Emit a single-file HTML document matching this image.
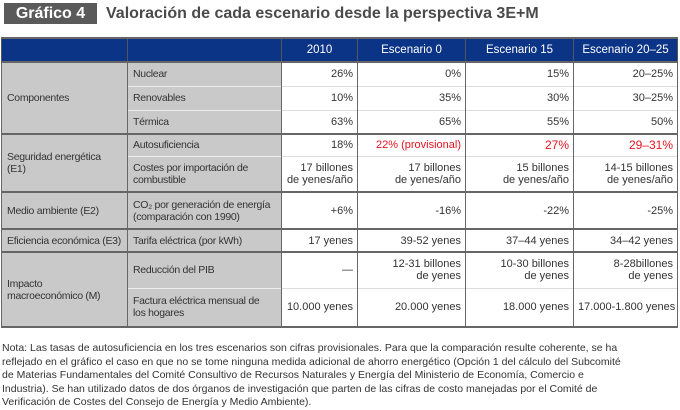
<!DOCTYPE html>
<html><head><meta charset="utf-8">
<style>
body{margin:0;width:680px;height:403px;background:#fff;font-family:"Liberation Sans",sans-serif;position:relative;overflow:hidden}
.badge{position:absolute;left:4px;top:3px;width:93px;height:21px;background:#5a5a5a;color:#fff;font-weight:bold;font-size:16px;line-height:21px;text-align:center}
.title{position:absolute;left:106px;top:3px;font-weight:bold;font-size:16px;line-height:21px;color:#4a4a4a}
table{position:absolute;left:1px;top:37px;width:676px;border-collapse:collapse;table-layout:fixed;font-size:11px;color:#333}
td,th{padding:0 4px;line-height:12px;overflow:hidden;white-space:nowrap;box-sizing:border-box}
th{background:#0b3487;color:#fff;font-weight:normal;font-size:11.5px;text-align:center;border-left:1px solid #555;border-right:1px solid #555;border-top:2px solid #666}
td{border-left:1px solid #666;border-right:1px solid #666}
.g{background:#c9c9c9;text-align:left;padding-left:5px;padding-right:0;font-size:10.5px;letter-spacing:-0.3px}
.v{text-align:right;background:#fff}
.thin td{border-top:1px solid #ddd}
.thin td.g{border-top:1px solid #eee}
.thick td{border-top:2px solid #666}
.red{color:#e8121e}
.note{position:absolute;left:2px;top:342px;width:676px;font-size:10.5px;line-height:13.6px;color:#333}
</style></head><body>
<div class="badge">Gráfico 4</div>
<div class="title">Valoración de cada escenario desde la perspectiva 3E+M</div>
<table>
<colgroup><col style="width:126px"><col style="width:154px"><col style="width:76px"><col style="width:108px"><col style="width:108px"><col style="width:104px"></colgroup>
<tr style="height:24px"><th style="width:126px"></th><th style="width:154px"></th><th style="width:76px">2010</th><th style="width:108px">Escenario 0</th><th style="width:108px">Escenario 15</th><th style="width:104px">Escenario 20–25</th></tr>
<tr class="thick" style="height:24px"><td class="g" rowspan="3">Componentes</td><td class="g">Nuclear</td><td class="v">26%</td><td class="v">0%</td><td class="v">15%</td><td class="v">20–25%</td></tr>
<tr class="thin" style="height:24px"><td class="g">Renovables</td><td class="v">10%</td><td class="v">35%</td><td class="v">30%</td><td class="v">30–25%</td></tr>
<tr class="thin" style="height:24px"><td class="g">Térmica</td><td class="v">63%</td><td class="v">65%</td><td class="v">55%</td><td class="v">50%</td></tr>
<tr class="thick" style="height:22px"><td class="g" rowspan="2">Seguridad energética<br>(E1)</td><td class="g">Autosuficiencia</td><td class="v">18%</td><td class="v red">22% (provisional)</td><td class="v red" style="font-size:12px">27%</td><td class="v red" style="font-size:12px">29–31%</td></tr>
<tr class="thin" style="height:36px"><td class="g">Costes por importación de<br>combustible</td><td class="v">17 billones<br>de yenes/año</td><td class="v">17 billones<br>de yenes/año</td><td class="v">15 billones<br>de yenes/año</td><td class="v">14-15 billones<br>de yenes/año</td></tr>
<tr class="thick" style="height:37px"><td class="g">Medio ambiente (E2)</td><td class="g">CO₂ por generación de energía<br>(comparación con 1990)</td><td class="v">+6%</td><td class="v">-16%</td><td class="v">-22%</td><td class="v">-25%</td></tr>
<tr class="thick" style="height:23px"><td class="g">Eficiencia económica (E3)</td><td class="g">Tarifa eléctrica (por kWh)</td><td class="v">17 yenes</td><td class="v">39-52 yenes</td><td class="v">37–44 yenes</td><td class="v">34–42 yenes</td></tr>
<tr class="thick" style="height:36px"><td class="g" rowspan="2">Impacto<br>macroeconómico (M)</td><td class="g">Reducción del PIB</td><td class="v">—</td><td class="v">12-31 billones<br>de yenes</td><td class="v">10-30 billones<br>de yenes</td><td class="v">8-28billones<br>de yenes</td></tr>
<tr class="thin" style="height:39px;border-bottom:2px solid #666"><td class="g">Factura eléctrica mensual de<br>los hogares</td><td class="v">10.000 yenes</td><td class="v">20.000 yenes</td><td class="v">18.000 yenes</td><td class="v">17.000-1.800 yenes</td></tr>
</table>
<div class="note">Nota: Las tasas de autosuficiencia en los tres escenarios son cifras provisionales. Para que la comparación resulte coherente, se ha<br>reflejado en el gráfico el caso en que no se tome ninguna medida adicional de ahorro energético (Opción 1 del cálculo del Subcomité<br>de Materias Fundamentales del Comité Consultivo de Recursos Naturales y Energía del Ministerio de Economía, Comercio e<br>Industria). Se han utilizado datos de dos órganos de investigación que parten de las cifras de costo manejadas por el Comité de<br>Verificación de Costes del Consejo de Energía y Medio Ambiente).</div>
</body></html>
